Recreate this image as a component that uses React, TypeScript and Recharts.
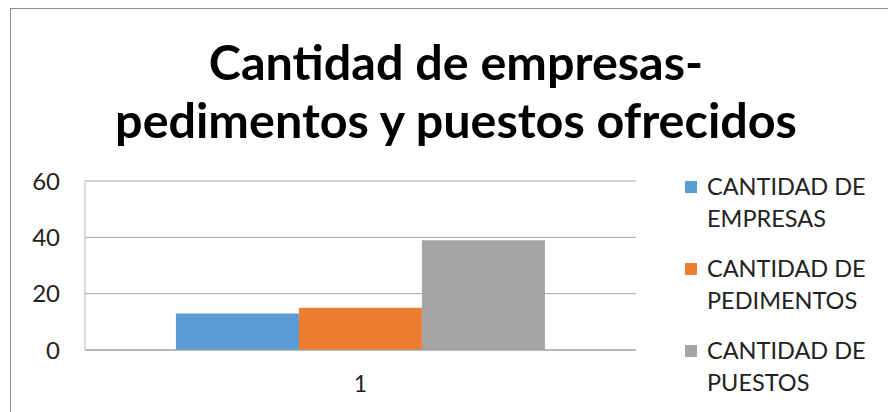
import React from 'react';
import { BarChart, Bar, XAxis, YAxis, CartesianGrid } from 'recharts';

// values
const categories = ['1'];
const empresas = [13];
const pedimentos = [15];
const puestos = [39];
const yTicks = [0, 20, 40, 60];

const seriesNames = ['CANTIDAD DE EMPRESAS', 'CANTIDAD DE PEDIMENTOS', 'CANTIDAD DE PUESTOS'];
const seriesLines = [
  ['CANTIDAD DE', 'EMPRESAS'],
  ['CANTIDAD DE', 'PEDIMENTOS'],
  ['CANTIDAD DE', 'PUESTOS'],
];
const colors = ['#5b9bd5', '#ed7d31', '#a5a5a5'];

const data = categories.map((c, i) => ({
  name: c,
  empresas: empresas[i],
  pedimentos: pedimentos[i],
  puestos: puestos[i],
}));
const keys = ['empresas', 'pedimentos', 'puestos'];

const font = 'Lato, "Noto Sans", sans-serif';

const App: React.FC = () => {
  return (
    <div
      style={{
        position: 'fixed',
        left: 0,
        top: 0,
        width: 888,
        height: 412,
        overflow: 'hidden',
        background: '#fff',
        fontFamily: font,
      }}
    >
      {/* chart frame, cut off at right and bottom like the screenshot */}
      <div
        style={{
          position: 'absolute',
          left: 10,
          top: 8,
          width: 900,
          height: 420,
          border: '1px solid #8c8c8c',
        }}
      />
      <div
        style={{
          position: 'absolute',
          left: 56,
          width: 800,
          top: 32,
          textAlign: 'center',
          fontWeight: 700,
          fontSize: 48.5,
          lineHeight: '58px',
          color: '#000',
        }}
      >
        Cantidad de empresas-
        <br />
        pedimentos y puestos ofrecidos
      </div>

      <div style={{ position: 'absolute', left: 0, top: 0 }}>
        <BarChart
          width={888}
          height={412}
          data={data}
          margin={{ top: 181, right: 252, bottom: 32, left: 25 }}
          barCategoryGap="16.5%"
          barGap={0}
        >
          <CartesianGrid vertical={false} stroke="#a6a6a6" />
          <XAxis
            dataKey="name"
            height={30}
            tickLine={false}
            tickSize={0}
            tickMargin={26}
            axisLine={{ stroke: '#a0a0a0' }}
            tick={{ fill: '#222', fontSize: 23, fontFamily: font }}
          />
          <YAxis
            width={60}
            domain={[0, 60]}
            ticks={yTicks}
            tickLine={false}
            tickSize={0}
            tickMargin={25}
            axisLine={{ stroke: '#b5b5b5' }}
            tick={{ fill: '#222', fontSize: 24, fontFamily: font }}
          />
          {keys.map((k, i) => (
            <Bar key={k} dataKey={k} name={seriesNames[i]} fill={colors[i]} isAnimationActive={false} />
          ))}
        </BarChart>
      </div>

      {/* legend */}
      {seriesLines.map((lines, i) => (
        <div
          key={i}
          style={{
            position: 'absolute',
            left: 685,
            top: 170 + i * 82,
            display: 'flex',
            alignItems: 'flex-start',
          }}
        >
          <div
            style={{
              width: 12,
              height: 12,
              background: colors[i],
              marginTop: 11,
              marginRight: 10,
            }}
          />
          <div style={{ fontSize: 23.5, lineHeight: '32px', color: '#222' }}>
            {lines[0]}
            <br />
            {lines[1]}
          </div>
        </div>
      ))}
    </div>
  );
};

export default App;
